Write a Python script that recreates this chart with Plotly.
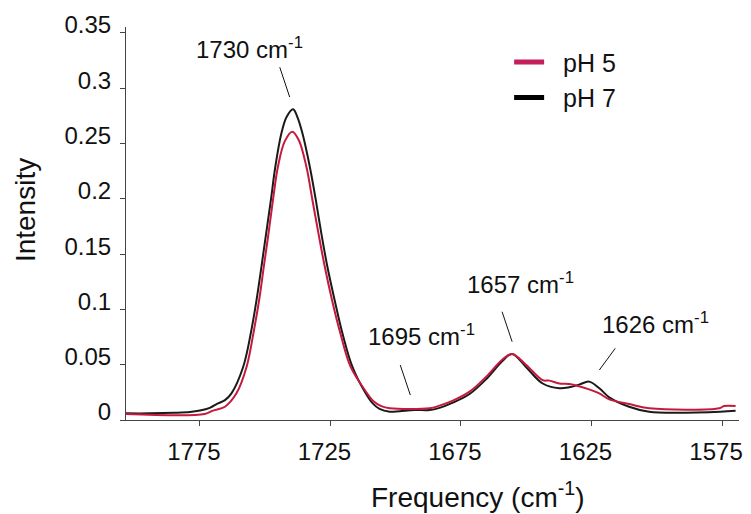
import plotly.graph_objects as go

# ---- data ----
freq_ph7 = [1803.3, 1794.1, 1784.6, 1778.8, 1775.0, 1771.2, 1768.1, 1765.4, 1762.9, 1758.4,
            1755.5, 1753.3, 1751.4, 1749.6, 1747.8, 1746.1, 1743.8, 1741.8, 1739.3, 1737.5,
            1735.7, 1732.9, 1730.6, 1728.5, 1726.2, 1723.4, 1720.4, 1716.6, 1711.5, 1708.8,
            1706.2, 1702.3, 1698.5, 1692.8, 1687.0, 1683.2, 1678.1, 1671.7, 1665.4, 1659.0,
            1655.4, 1650.1, 1643.7, 1637.3, 1633.5, 1629.7, 1625.9, 1622.0, 1618.2, 1610.6,
            1602.9, 1590.3, 1580.0, 1569.8]
int_ph7 = [0.006, 0.006, 0.0065, 0.0072, 0.0085, 0.011, 0.015, 0.018, 0.0241, 0.0482,
           0.0784, 0.1085, 0.139, 0.169, 0.199, 0.229, 0.259, 0.274, 0.281, 0.273,
           0.259, 0.229, 0.199, 0.169, 0.139, 0.1085, 0.0784, 0.0482, 0.0241, 0.015,
           0.010, 0.0075, 0.008, 0.009, 0.009, 0.011, 0.0157, 0.0235, 0.0368, 0.0536,
           0.0597, 0.048, 0.033, 0.0287, 0.0296, 0.032, 0.0347, 0.0287, 0.0205, 0.012,
           0.0075, 0.0066, 0.007, 0.0084]

freq_ph5 = [1803.3, 1773.1, 1770.0, 1765.4, 1761.0, 1757.1, 1754.5, 1752.3, 1750.5, 1748.7,
            1747.0, 1745.1, 1742.5, 1739.6, 1737.1, 1734.2, 1731.9, 1729.6, 1727.2, 1724.4,
            1721.2, 1717.3, 1711.5, 1708.5, 1705.5, 1702.3, 1687.0, 1683.2, 1678.1, 1671.7,
            1665.4, 1659.0, 1655.4, 1650.1, 1643.7, 1641.1, 1637.3, 1633.5, 1625.9, 1622.0,
            1618.2, 1610.6, 1602.9, 1576.1, 1574.2, 1569.8]
int_ph5 = [0.0054, 0.0054, 0.0085, 0.012, 0.0241, 0.0482, 0.0784, 0.1085, 0.139, 0.169,
           0.199, 0.229, 0.252, 0.2607, 0.253, 0.229, 0.199, 0.169, 0.139, 0.1085,
           0.0784, 0.0482, 0.026, 0.017, 0.0125, 0.0106, 0.0106, 0.013, 0.0175, 0.0256,
           0.039, 0.0549, 0.0597, 0.050, 0.036, 0.0356, 0.033, 0.0325, 0.0277, 0.024,
           0.0187, 0.0145, 0.0106, 0.0106, 0.0127, 0.0127]

series_names = ["pH 5", "pH 7"]
x_ticks = [1775, 1725, 1675, 1625, 1575]
y_ticks = [0, 0.05, 0.1, 0.15, 0.2, 0.25, 0.3, 0.35]

peak_labels = ["1730 cm<sup>-1</sup>", "1695 cm<sup>-1</sup>", "1657 cm<sup>-1</sup>", "1626 cm<sup>-1</sup>"]
label_pos = [(1755.9, 0.3363), (1690.1, 0.0769), (1652.2, 0.1239), (1600.6, 0.0877)]
leader_lines = [((1744.4, 0.319), (1740.6, 0.292)),
                ((1698.25, 0.0497), (1694.4, 0.0226)),
                ((1659.25, 0.0979), (1655.4, 0.0708)),
                ((1615.9, 0.0648), (1622.0, 0.0452))]

RED = "#c51a3e"
RED_LEGEND = "#c41f5a"
BLACK = "#1a1a1a"
FONT = "Liberation Sans, Arial, sans-serif"
PAD = "\u00a0\u00a0"

fig = go.Figure()
fig.add_trace(go.Scatter(x=freq_ph7, y=int_ph7, mode="lines", name=series_names[1], showlegend=False,
                         line=dict(color=BLACK, width=2, shape="spline", smoothing=1.0)))
fig.add_trace(go.Scatter(x=freq_ph5, y=int_ph5, mode="lines", name=series_names[0], showlegend=False,
                         line=dict(color=RED, width=2, shape="spline", smoothing=1.0)))
# legend entries (thicker swatches as in the reference)
fig.add_trace(go.Scatter(x=[None], y=[None], mode="lines", name=PAD + series_names[0],
                         line=dict(color=RED_LEGEND, width=5)))
fig.add_trace(go.Scatter(x=[None], y=[None], mode="lines", name=PAD + series_names[1],
                         line=dict(color="#000000", width=5)))

annotations = []
for txt, (x, y) in zip(peak_labels, label_pos):
    annotations.append(dict(x=x, y=y, xref="x", yref="y", text=txt, showarrow=False,
                            xanchor="center", yanchor="middle",
                            font=dict(size=24, color="#111", family=FONT)))
annotations.append(dict(x=-0.1648, y=0.534, xref="paper", yref="paper", text="Intensity",
                        xanchor="center", yanchor="middle",
                        textangle=-90, showarrow=False, font=dict(size=28, color="#111", family=FONT)))
annotations.append(dict(x=0.574, y=-0.191, xref="paper", yref="paper", text="Frequency (cm<sup>-1</sup>)",
                        xanchor="center", yanchor="middle",
                        showarrow=False, font=dict(size=28, color="#111", family=FONT)))

shapes = []
for (x0, y0), (x1, y1) in leader_lines:
    shapes.append(dict(type="line", xref="x", yref="y", x0=x0, y0=y0, x1=x1, y1=y1,
                       line=dict(color="#111", width=1)))

fig.update_layout(
    width=743, height=506,
    margin=dict(l=118, r=12, t=19, b=94),
    paper_bgcolor="white", plot_bgcolor="white",
    font=dict(family=FONT, size=24, color="#111"),
    annotations=annotations, shapes=shapes,
    legend=dict(x=0.625, y=0.969, xanchor="left", yanchor="top",
                bgcolor="rgba(0,0,0,0)", font=dict(size=25, family=FONT, color="#111"),
                traceorder="normal", itemwidth=30, tracegroupgap=0),
    showlegend=True,
)
fig.update_xaxes(range=[1803.3, 1568.5], tickvals=x_ticks, ticktext=[str(v) for v in x_ticks],
                 showgrid=False, zeroline=False, showline=True, linecolor="#444", linewidth=1,
                 ticks="outside", ticklen=5, tickcolor="#444", ticklabelstandoff=5,
                 ticklabelshift=6, ticklabeloverflow="allow", tickfont=dict(size=24),
                 automargin=False)
fig.update_yaxes(range=[0, 0.3554], tickvals=y_ticks, showgrid=False, zeroline=False,
                 showline=True, linecolor="#444", linewidth=1,
                 ticks="outside", ticklen=5, tickcolor="#444", ticklabelstandoff=4,
                 ticklabelshift=-8, ticklabeloverflow="allow", tickfont=dict(size=24),
                 automargin=False)

fig.write_html("out.html")
